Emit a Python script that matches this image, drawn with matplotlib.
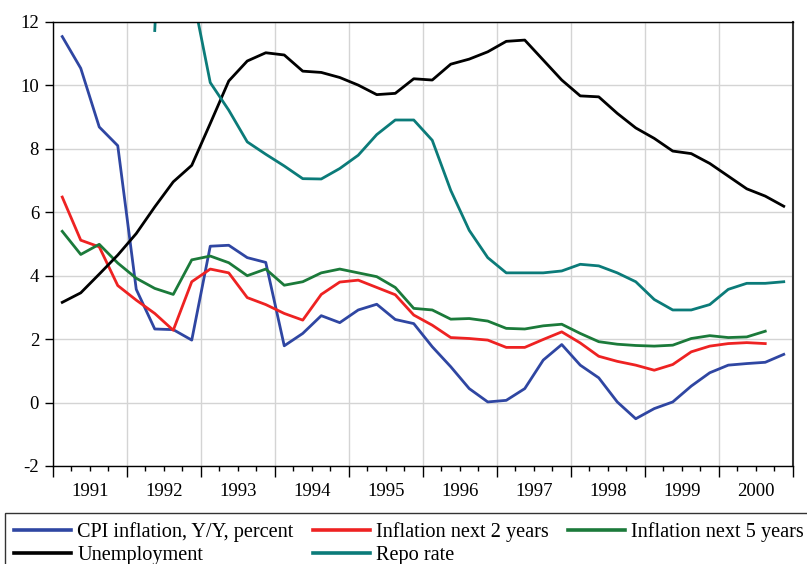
import numpy as np
import matplotlib
matplotlib.use("Agg")
import matplotlib.pyplot as plt
import matplotlib.ticker as ticker

# quarterly observations, 1991Q1 .. 2000Q4
years = list(range(1991, 2001))
nan = np.nan

cpi = [11.54, 10.54, 8.69, 8.1, 3.57, 2.32, 2.3, 1.97,
       4.93, 4.96, 4.57, 4.42, 1.79, 2.18, 2.74, 2.52,
       2.92, 3.1, 2.62, 2.49, 1.76, 1.13, 0.44, 0.02,
       0.07, 0.44, 1.34, 1.83, 1.18, 0.78, 0.02, -0.51,
       -0.19, 0.02, 0.52, 0.94, 1.18, 1.23, 1.27, 1.52]

infl_2y = [6.48, 5.12, 4.91, 3.69, 3.23, 2.81, 2.28, 3.81,
           4.21, 4.09, 3.31, 3.09, 2.81, 2.6, 3.41, 3.8,
           3.86, 3.63, 3.4, 2.76, 2.44, 2.05, 2.02, 1.97,
           1.74, 1.74, 1.99, 2.23, 1.88, 1.46, 1.3, 1.18,
           1.02, 1.2, 1.6, 1.78, 1.86, 1.89, 1.86, nan]

infl_5y = [5.4, 4.67, 4.99, 4.4, 3.92, 3.6, 3.41, 4.5,
           4.62, 4.41, 4.0, 4.21, 3.7, 3.81, 4.09, 4.21,
           4.09, 3.97, 3.63, 2.97, 2.92, 2.63, 2.65, 2.57,
           2.34, 2.32, 2.42, 2.47, 2.18, 1.92, 1.84, 1.8,
           1.78, 1.81, 2.02, 2.11, 2.05, 2.07, 2.25, nan]

unemployment = [3.16, 3.46, 4.05, 4.65, 5.33, 6.17, 6.96, 7.48,
                8.8, 10.14, 10.77, 11.03, 10.96, 10.45, 10.41, 10.25,
                10.01, 9.71, 9.75, 10.21, 10.17, 10.67, 10.83, 11.06,
                11.39, 11.43, 10.8, 10.17, 9.67, 9.64, 9.12, 8.66,
                8.33, 7.93, 7.85, 7.54, 7.14, 6.74, 6.51, 6.19]

repo = [nan, nan, nan, nan, nan, 11.73, 24.0, 13.02,
        10.09, 9.22, 8.22, 7.83, 7.46, 7.06, 7.05, 7.38,
        7.8, 8.45, 8.91, 8.91, 8.27, 6.69, 5.43, 4.57,
        4.09, 4.09, 4.09, 4.15, 4.36, 4.31, 4.09, 3.81,
        3.25, 2.92, 2.92, 3.09, 3.57, 3.76, 3.76, 3.81]

series = [
    ("CPI inflation, Y/Y, percent", cpi, "#2f46a2"),
    ("Inflation next 2 years", infl_2y, "#ee2222"),
    ("Inflation next 5 years", infl_5y, "#1b7a3a"),
    ("Unemployment", unemployment, "#000000"),
    ("Repo rate", repo, "#0b7b79"),
]

plt.rcParams["font.family"] = ["Liberation Serif", "DejaVu Serif"]
plt.rcParams["axes.unicode_minus"] = False

W, H = 807, 564
fig = plt.figure(figsize=(W / 100, H / 100), dpi=100)
ax = fig.add_axes([53 / W, 1 - 466 / H, 740 / W, 444 / H])

t = years[0] + (np.arange(len(cpi)) + 0.5) / 4.0
lines = {}
for label, vals, color in series:
    (ln,) = ax.plot(t, vals, color=color, linewidth=2.0, label=label)
    lines[label] = ln

ax.set_xlim(1991, 2001)
ax.set_ylim(-2, 12)

# year boundaries: long ticks + grid, quarters: short ticks, labels mid-year
ax.set_xticks(np.arange(1991, 2002))
ax.xaxis.set_major_formatter(ticker.NullFormatter())
quarter_pos = [y + q / 4 for y in years for q in (1, 2, 3)]
quarter_lab = [str(y) if q == 2 else "" for y in years for q in (1, 2, 3)]
ax.set_xticks(quarter_pos, minor=True)
ax.set_xticklabels(quarter_lab, minor=True)
ax.tick_params(axis="x", which="major", length=7.7, width=1, direction="out")
ax.tick_params(axis="x", which="minor", length=3.6, width=1, direction="out",
               labelsize=13.5, pad=9)
ax.set_yticks(np.arange(-2, 13, 2))
ax.tick_params(axis="y", length=6, width=1, labelsize=13.5, pad=4)

ax.grid(True, which="major", color="#d4d4d4", linewidth=1.0)
ax.set_axisbelow(True)
for side in ("left", "bottom", "top"):
    ax.spines[side].set_color("#000000")
    ax.spines[side].set_linewidth(1.0)
ax.spines["right"].set_color("#333333")
ax.spines["right"].set_linewidth(1.5)

order = ["CPI inflation, Y/Y, percent", "Unemployment",
         "Inflation next 2 years", "Repo rate", "Inflation next 5 years"]
leg = fig.legend([lines[k] for k in order], order, ncol=3,
                 loc="upper left", bbox_to_anchor=(5 / W, 1 - 513 / H),
                 frameon=True, fancybox=False, edgecolor="#000000",
                 fontsize=14.6, handlelength=2.81, handletextpad=0.3,
                 columnspacing=0.95, labelspacing=0.2, borderpad=0.45,
                 borderaxespad=0)
leg.get_frame().set_linewidth(1.0)
for h in leg.legend_handles:
    h.set_linewidth(2.6)

fig.savefig("out.png", dpi=100)
